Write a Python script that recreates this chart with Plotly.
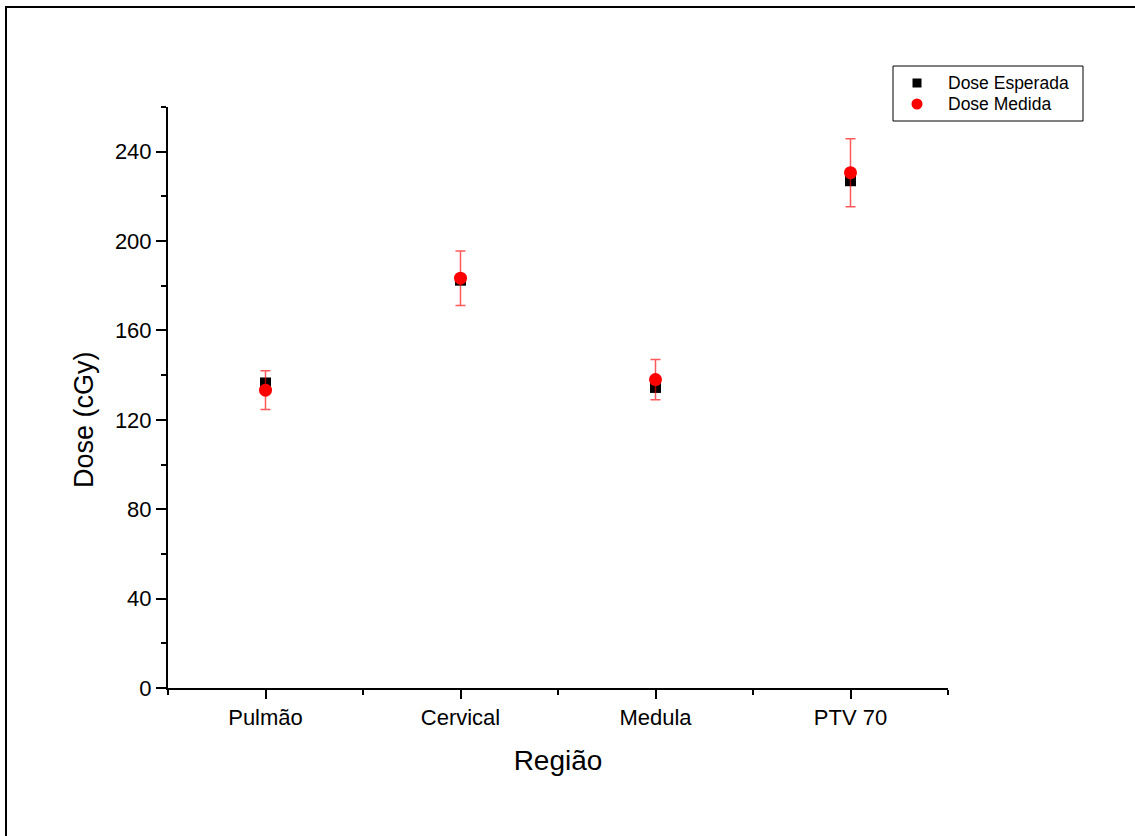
import plotly.graph_objects as go

regions = ["Pulmão", "Cervical", "Medula", "PTV 70"]
dose_esperada = [136.5, 182.5, 134.5, 227.0]
dose_medida = [133.3, 183.4, 138.0, 230.6]
erro_medida = [8.7, 12.2, 9.0, 15.2]
legend_labels = ["Dose Esperada", "Dose Medida"]

xpos = list(range(len(regions)))

fig = go.Figure()
fig.add_trace(go.Scatter(
    x=xpos, y=dose_esperada, mode="markers", name=legend_labels[0],
    marker=dict(symbol="square", size=11, color="black"),
))
fig.add_trace(go.Scatter(
    x=xpos, y=dose_medida, mode="markers", name=legend_labels[1],
    marker=dict(symbol="circle", size=13, color="red"),
    error_y=dict(type="data", array=erro_medida, visible=True,
                 color="rgba(255,0,0,0.65)", thickness=1.5, width=5),
))

font = "Liberation Sans, Arial, sans-serif"

# plot area in pixels
L, R, T, B = 168, 948, 107, 688
W, H = R - L, B - T
def px(x):
    return (x - L) / W
def py(y):
    return (B - y) / H

shapes = [
    # outer frame
    dict(type="rect", xref="paper", yref="paper",
         x0=px(6), y0=-0.5, x1=1.4, y1=py(7),
         line=dict(color="black", width=2), fillcolor="rgba(0,0,0,0)", layer="below"),
    # legend box
    dict(type="rect", xref="paper", yref="paper",
         x0=px(893), x1=px(1083), y0=py(121), y1=py(66),
         line=dict(color="black", width=1), fillcolor="white"),
    # legend square
    dict(type="rect", xref="paper", yref="paper",
         x0=px(917 - 4.5), x1=px(917 + 4.5), y0=py(83 + 4.5), y1=py(83 - 4.5),
         line=dict(width=0), fillcolor="black"),
    # legend circle
    dict(type="circle", xref="paper", yref="paper",
         x0=px(917 - 5.5), x1=px(917 + 5.5), y0=py(104 + 5.5), y1=py(104 - 5.5),
         line=dict(width=0), fillcolor="red"),
]

annotations = [
    dict(text=legend_labels[0], xref="paper", yref="paper", x=px(946), y=py(83),
         xanchor="left", yanchor="middle", showarrow=False,
         font=dict(size=17.5, family=font, color="black")),
    dict(text=legend_labels[1], xref="paper", yref="paper", x=px(946), y=py(104),
         xanchor="left", yanchor="middle", showarrow=False,
         font=dict(size=17.5, family=font, color="black")),
    dict(text="Dose (cGy)", xref="paper", yref="paper", x=px(84), y=py(420),
         xanchor="center", yanchor="middle", textangle=-90, showarrow=False,
         font=dict(size=27, family=font, color="black")),
]

fig.update_layout(
    width=1135, height=836,
    margin=dict(l=L, r=1135 - R, t=T, b=836 - B),
    paper_bgcolor="white", plot_bgcolor="white",
    font=dict(family=font, color="black", size=22),
    showlegend=False,
    xaxis=dict(
        range=[-0.5, 3.5], tickvals=xpos, ticktext=regions,
        showgrid=False, zeroline=False, showline=True, linecolor="black",
        linewidth=2, ticks="outside", ticklen=9, tickwidth=2, tickcolor="black",
        minor=dict(tickvals=[-0.5, 0.5, 1.5, 2.5, 3.5], ticks="outside",
                   ticklen=5, tickwidth=2, tickcolor="black", showgrid=False),
        title=dict(text="Região", font=dict(size=28, family=font), standoff=21),
        tickfont=dict(size=22, family=font),
    ),
    yaxis=dict(
        range=[0, 260], tick0=0, dtick=40,
        showgrid=False, zeroline=False, showline=True, linecolor="black",
        linewidth=2, ticks="outside", ticklen=10, tickwidth=2, tickcolor="black",
        minor=dict(dtick=20, ticks="outside", ticklen=5, tickwidth=2,
                   tickcolor="black", showgrid=False),
        tickfont=dict(size=22, family=font),
    ),
    shapes=shapes,
    annotations=annotations,
)

fig.write_html("out.html")
